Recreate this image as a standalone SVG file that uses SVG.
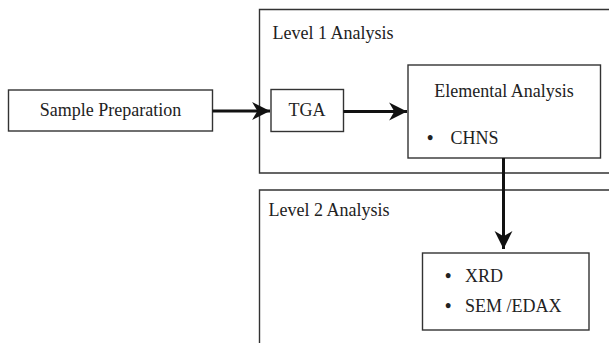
<svg xmlns="http://www.w3.org/2000/svg" width="609" height="343" viewBox="0 0 609 343">
<style>
.box{fill:#fff;stroke:#333;stroke-width:1.4}
.frame{fill:none;stroke:#333;stroke-width:1.4}
.t{font-family:"Liberation Serif","Times New Roman",serif;font-size:18px;fill:#222}
.c{text-anchor:middle}
.b{font-weight:bold}
.ln{stroke:#111;stroke-width:3;fill:none}
</style>
<defs>
<marker id="ah" markerUnits="userSpaceOnUse" markerWidth="20" markerHeight="20" viewBox="-18 -9 19 18" refX="0" refY="0" orient="auto">
<path d="M0,0 L-17,-8.5 L-12,0 L-17,8.5 Z" fill="#111"/>
</marker>
</defs>
<rect width="609" height="343" fill="#fff"/>
<g id="level1">
<path class="frame" d="M612,9.5 H259.5 V173 H612"/>
<text class="t" x="272.5" y="38.5">Level 1 Analysis</text>
</g>
<g id="level2">
<path class="frame" d="M612,190 H259.5 V346"/>
<text class="t" x="268.5" y="215.5">Level 2 Analysis</text>
</g>
<g id="sample">
<rect class="box" x="8.5" y="90" width="204" height="41"/>
<text class="t c" x="110.5" y="116">Sample Preparation</text>
</g>
<g id="tga">
<rect class="box" x="271" y="89.5" width="72.5" height="42"/>
<text class="t c" x="307" y="115.5">TGA</text>
</g>
<g id="elemental">
<rect class="box" x="408" y="65" width="192.5" height="93"/>
<text class="t c" x="504" y="96.5">Elemental Analysis</text>
<text class="t b" x="427" y="143.5">•</text>
<text class="t" x="450.5" y="143.5">CHNS</text>
</g>
<g id="xrd">
<rect class="box" x="422.5" y="253" width="166.5" height="77"/>
<text class="t b" x="445" y="282">•</text>
<text class="t" x="465" y="282">XRD</text>
<text class="t b" x="445" y="312">•</text>
<text class="t" x="465" y="312">SEM /EDAX</text>
</g>
<g id="connectors">
<line class="ln" x1="212.5" y1="111" x2="270" y2="111" marker-end="url(#ah)"/>
<line class="ln" x1="343.5" y1="111.5" x2="407" y2="111.5" marker-end="url(#ah)"/>
<line class="ln" x1="503.5" y1="158" x2="503.5" y2="249" marker-end="url(#ah)"/>
</g>
</svg>
